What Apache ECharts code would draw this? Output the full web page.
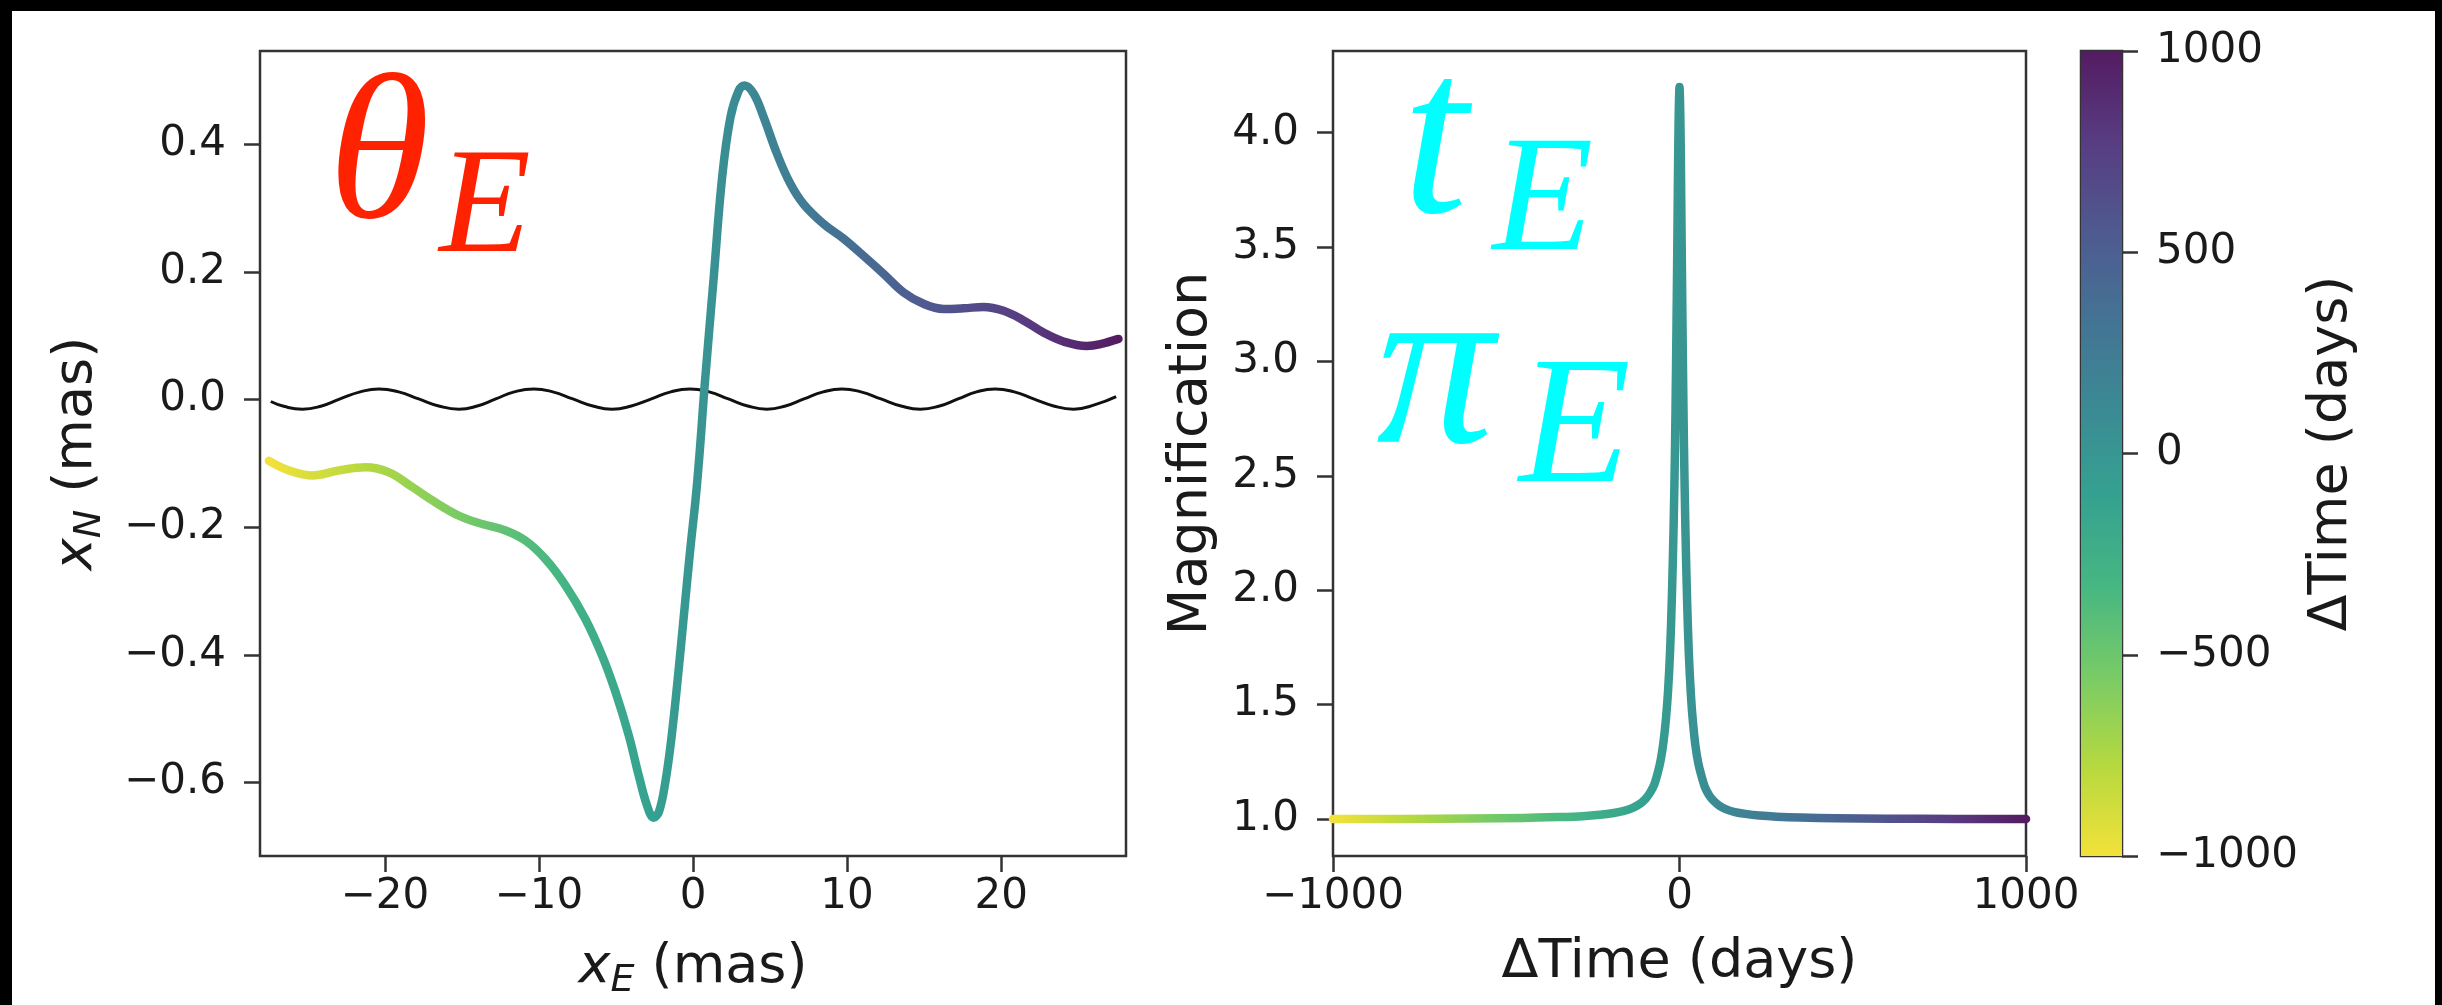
<!DOCTYPE html>
<html>
<head>
<meta charset="utf-8">
<script src="https://cdn.jsdelivr.net/npm/echarts@6/dist/echarts.min.js"></script>
<style>
html, body { margin: 0; padding: 0; background: #000; width: 2442px; height: 1005px; overflow: hidden; }
#chart { position: absolute; left: 12px; top: 11px; width: 2423px; height: 994px; }
</style>
</head>
<body>
<div id="chart"></div>
<script>
// lensed image track (x_E, x_N in mas)
var pathXE = [-27.52, -26.22, -24.70, -22.98, -21.25, -19.73, -18.22, -16.71, -15.19, -13.68,
  -12.17, -10.87, -9.57, -8.28, -6.98, -5.90, -5.03, -4.17, -3.52, -2.98,
  -2.55, -2.20, -1.80, -1.40, -1.00, -0.60, -0.20, 0.27, 0.80, 1.34,
  1.89, 2.43, 2.97, 3.35, 3.94, 4.59, 5.45, 6.32, 7.18, 8.48,
  9.77, 11.07, 12.37, 13.66, 14.96, 16.26, 17.56, 18.85, 20.15, 21.45,
  22.74, 24.04, 25.56, 26.64, 27.61];
var pathXN = [-0.096, -0.111, -0.119, -0.111, -0.106, -0.114, -0.137, -0.161, -0.182, -0.195,
  -0.205, -0.221, -0.250, -0.291, -0.344, -0.401, -0.458, -0.526, -0.589, -0.636,
  -0.655, -0.645, -0.600, -0.530, -0.440, -0.340, -0.240, -0.130, 0.035, 0.190,
  0.348, 0.442, 0.484, 0.492, 0.479, 0.442, 0.385, 0.338, 0.306, 0.275,
  0.252, 0.225, 0.197, 0.168, 0.150, 0.142, 0.143, 0.145, 0.139, 0.124,
  0.105, 0.091, 0.084, 0.088, 0.095];

// unlensed source track (black wiggle)
var srcXE = [-27.40, -26.50, -25.35, -24.10, -22.90, -21.60, -20.38, -19.10, -17.80, -16.50,
  -15.19, -14.00, -12.80, -11.60, -10.33, -9.10, -7.80, -6.50, -5.25, -4.00,
  -2.70, -1.45, -0.20, 1.05, 2.30, 3.55, 4.80, 6.00, 7.20, 8.45,
  9.67, 10.90, 12.20, 13.50, 14.75, 16.00, 17.20, 18.40, 19.60, 20.85,
  22.10, 23.40, 24.70, 26.10, 27.46];
var srcXN = [-0.003, -0.011, -0.015, -0.010, 0.001, 0.012, 0.0165, 0.012, 0.001, -0.010,
  -0.015, -0.010, 0.001, 0.012, 0.0165, 0.012, 0.001, -0.010, -0.015, -0.010,
  0.001, 0.012, 0.0165, 0.012, 0.001, -0.010, -0.015, -0.010, 0.001, 0.012,
  0.0165, 0.012, 0.001, -0.010, -0.015, -0.010, 0.001, 0.012, 0.0165, 0.012,
  0.001, -0.010, -0.015, -0.008, 0.0045];

// light curve, right panel
var magTime = [-1000, -800, -600, -450, -350, -280, -230, -190, -160, -135,
  -115, -98, -85, -73, -63, -54, -46, -39, -33, -27,
  -22, -17, -13, -10, -7, -4.5, -2.5, 0, 2.5, 4.5,
  7, 10, 13, 17, 22, 27, 33, 39, 46, 54,
  63, 73, 85, 98, 115, 135, 160, 190, 230, 280,
  350, 450, 600, 800, 1000];
var magValue = [1.000, 1.000, 1.002, 1.004, 1.008, 1.012, 1.018, 1.026, 1.035, 1.048,
  1.065, 1.088, 1.115, 1.15, 1.20, 1.26, 1.34, 1.44, 1.56, 1.74,
  1.97, 2.28, 2.62, 2.98, 3.40, 3.80, 4.06, 4.20, 4.06, 3.80,
  3.40, 2.98, 2.62, 2.27, 1.95, 1.72, 1.54, 1.42, 1.32, 1.245,
  1.19, 1.14, 1.105, 1.08, 1.058, 1.042, 1.030, 1.022, 1.015, 1.010,
  1.006, 1.003, 1.001, 1.000, 1.000];

var xETicks = [-20, -10, 0, 10, 20];
var xNTicks = [-0.6, -0.4, -0.2, 0.0, 0.2, 0.4];
var timeTicks = [-1000, 0, 1000];
var magTicks = [1.0, 1.5, 2.0, 2.5, 3.0, 3.5, 4.0];
var cbTicks = [-1000, -500, 0, 500, 1000];

// viridis from dark to light, a little washed out like the video frame
function wash(hex) {
  var n = parseInt(hex.slice(1), 16), k = 0.14, g = 185;
  var r = Math.round(((n >> 16) & 255) * (1 - k) + g * k);
  var gg = Math.round(((n >> 8) & 255) * (1 - k) + g * k);
  var b = Math.round((n & 255) * (1 - k) + g * k);
  return 'rgb(' + r + ',' + gg + ',' + b + ')';
}
var viridis = ['#440154', '#482878', '#3e4989', '#31688e', '#26828e',
  '#1f9e89', '#35b779', '#6ece58', '#b5de2b', '#fde725'].map(wash);
// time runs the other way: -1000 is yellow, +1000 is purple
var viridisRev = viridis.slice().reverse();

function zip(a, b) {
  var out = [];
  for (var i = 0; i < a.length; i++) out.push([a[i], b[i]]);
  return out;
}
function minus(s) { return String(s).replace('-', '\u2212'); }

var tickFont = { fontFamily: 'DejaVu Sans', fontSize: 42, color: '#1a1a1a' };
var nameFont = { fontFamily: 'DejaVu Sans', fontSize: 54, color: '#1a1a1a' };
var axisColor = '#333';
var tickStyle = { color: axisColor, width: 2.5 };
var subRich = {
  i: { fontFamily: 'DejaVu Sans', fontStyle: 'italic', fontSize: 54, lineHeight: 64, color: '#1a1a1a' },
  s: { fontFamily: 'DejaVu Sans', fontStyle: 'italic', fontSize: 38, lineHeight: 24, verticalAlign: 'bottom', color: '#1a1a1a' },
  n: { fontFamily: 'DejaVu Sans', fontSize: 54, lineHeight: 64, color: '#1a1a1a' }
};

function valAxis(o) {
  var base = {
    type: 'value',
    scale: true,
    splitLine: { show: false },
    axisLine: { show: false, onZero: false },
    axisTick: { show: true, length: 16, lineStyle: tickStyle },
    axisLabel: Object.assign({ margin: 17, lineHeight: 48 }, tickFont),
    nameTextStyle: nameFont
  };
  return Object.assign(base, o);
}

// colorbar: top (+1000) purple, bottom (-1000) yellow
var cbGradient = new echarts.graphic.LinearGradient(0, 0, 0, 1,
  viridis.map(function (c, i) { return { offset: i / (viridis.length - 1), color: c }; }));

var myChart = echarts.init(document.getElementById('chart'), null, { renderer: 'canvas' });

var option = {
  backgroundColor: '#ffffff',
  animation: false,
  grid: [
    { left: 248, top: 40, width: 866, height: 805, show: true, backgroundColor: '#fff', borderColor: axisColor, borderWidth: 2.5 },
    { left: 1321, top: 40, width: 693, height: 805, show: true, backgroundColor: '#fff', borderColor: axisColor, borderWidth: 2.5 },
    { left: 2069, top: 40, width: 41, height: 805, show: true, backgroundColor: '#fff', borderColor: axisColor, borderWidth: 2.5 }
  ],
  xAxis: [
    valAxis({
      gridIndex: 0, min: -28.1, max: 28.1,
      axisTick: { show: true, length: 16, customValues: xETicks, lineStyle: tickStyle },
      axisLabel: Object.assign({ margin: 17, lineHeight: 48, customValues: xETicks, formatter: minus }, tickFont),
      name: '{i|x}{s|E}{n| (mas)}', nameLocation: 'middle', nameGap: 80,
      nameTextStyle: { rich: subRich }
    }),
    valAxis({
      gridIndex: 1, min: timeTicks[0], max: timeTicks[2], interval: 1000,
      axisTick: { show: true, length: 16, customValues: timeTicks, lineStyle: tickStyle },
      axisLabel: Object.assign({ margin: 17, lineHeight: 48, customValues: timeTicks, formatter: minus }, tickFont),
      name: '\u0394Time (days)', nameLocation: 'middle', nameGap: 80
    }),
    { type: 'value', gridIndex: 2, min: 0, max: 1, show: false }
  ],
  yAxis: [
    valAxis({
      gridIndex: 0, min: -0.715, max: 0.546,
      axisTick: { show: true, length: 16, customValues: xNTicks, lineStyle: tickStyle },
      axisLabel: Object.assign({ margin: 34, customValues: xNTicks,
        formatter: function (v) { return minus(Number(v).toFixed(1)); } }, tickFont),
      name: '{i|x}{s|N}{n| (mas)}', nameLocation: 'middle', nameRotate: 90, nameGap: 151,
      nameTextStyle: { rich: subRich }
    }),
    valAxis({
      gridIndex: 1, min: 0.838, max: 4.357,
      axisTick: { show: true, length: 16, customValues: magTicks, lineStyle: tickStyle },
      axisLabel: Object.assign({ margin: 34, customValues: magTicks,
        formatter: function (v) { return Number(v).toFixed(1); } }, tickFont),
      name: 'Magnification', nameLocation: 'middle', nameRotate: 90, nameGap: 114
    }),
    valAxis({
      gridIndex: 2, min: cbTicks[0], max: cbTicks[cbTicks.length - 1], position: 'right',
      axisTick: { show: true, length: 16, customValues: cbTicks, lineStyle: tickStyle },
      axisLabel: Object.assign({ margin: 34, customValues: cbTicks, formatter: minus }, tickFont),
      name: '\u0394Time (days)', nameLocation: 'middle', nameRotate: 90, nameGap: 183
    })
  ],
  visualMap: [
    { type: 'continuous', show: false, seriesIndex: 0, dimension: 0, min: pathXE[0], max: pathXE[pathXE.length - 1], inRange: { color: viridisRev } },
    { type: 'continuous', show: false, seriesIndex: 2, dimension: 0, min: cbTicks[0], max: cbTicks[cbTicks.length - 1], inRange: { color: viridisRev } }
  ],
  series: [
    {
      type: 'line', xAxisIndex: 0, yAxisIndex: 0, data: zip(pathXE, pathXN),
      showSymbol: false, symbol: 'none', smooth: 0.4, z: 3,
      lineStyle: { width: 8.5, cap: 'round', join: 'round' }
    },
    {
      type: 'line', xAxisIndex: 0, yAxisIndex: 0, data: zip(srcXE, srcXN),
      showSymbol: false, symbol: 'none', smooth: 0.5, z: 2,
      lineStyle: { width: 3, color: '#111' }
    },
    {
      type: 'line', xAxisIndex: 1, yAxisIndex: 1, data: zip(magTime, magValue),
      showSymbol: false, symbol: 'none', smooth: 0.3,
      lineStyle: { width: 8.5, cap: 'round', join: 'round' }
    },
    {
      type: 'custom', xAxisIndex: 2, yAxisIndex: 2,
      data: [[0, cbTicks[0], 1, cbTicks[cbTicks.length - 1]]],
      encode: { x: [0, 2], y: [1, 3] },
      renderItem: function (params, api) {
        var p0 = api.coord([api.value(0), api.value(1)]);
        var p1 = api.coord([api.value(2), api.value(3)]);
        return {
          type: 'rect',
          shape: { x: p0[0], y: p1[1], width: p1[0] - p0[0], height: p0[1] - p1[1] },
          style: { fill: cbGradient }
        };
      }
    }
  ],
  graphic: [
    { type: 'text', x: 367, y: 152, style: { text: '\u03b8', fill: '#ff2200', font: 'italic 207px "Liberation Serif"', align: 'center', verticalAlign: 'middle' } },
    { type: 'text', x: 473, y: 201, style: { text: 'E', fill: '#ff2200', font: 'italic 150px "Liberation Serif"', align: 'center', verticalAlign: 'middle' } },
    { type: 'text', x: 1423, y: 139, style: { text: 't', fill: '#00ffff', font: 'italic 235px "Liberation Serif"', align: 'center', verticalAlign: 'middle' } },
    { type: 'text', x: 1531, y: 195, style: { text: 'E', fill: '#00ffff', font: 'italic 165px "Liberation Serif"', align: 'center', verticalAlign: 'middle' } },
    { type: 'text', x: 1423, y: 369, style: { text: '\u03c0', fill: '#00ffff', font: 'italic 235px "Liberation Serif"', align: 'center', verticalAlign: 'middle' } },
    { type: 'text', x: 1563, y: 422, style: { text: 'E', fill: '#00ffff', font: 'italic 183px "Liberation Serif"', align: 'center', verticalAlign: 'middle' } }
  ]
};

myChart.setOption(option);
</script>
</body>
</html>
